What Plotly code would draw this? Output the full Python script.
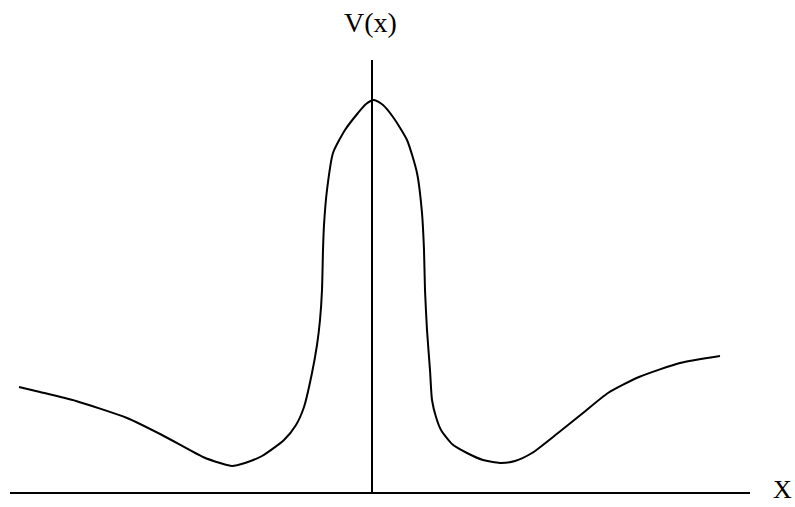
import plotly.graph_objects as go

# Potential curve V(x) (x relative to the vertical axis, V above the baseline)
x_vals = [-353, -332, -296, -245, -210, -169, -152, -140, -127, -110, -88, -76, -68, -60,
          -55, -52, -50, -49, -48, -45, -39, -27, -14, -6, 2, 11, 21, 35, 45, 50, 52, 53,
          55, 58, 60, 64, 69, 80, 95, 111, 128, 143, 160, 186, 211, 236, 267, 308, 348]
v_vals = [106, 101, 92, 75, 58, 36, 30, 27, 30, 37, 53, 68, 86, 120,
          148, 173, 203, 243, 268, 303, 340, 363, 380, 389, 393, 388, 376, 353, 320, 280, 243, 203,
          163, 123, 93, 76, 63, 49, 40, 33, 30, 32, 40, 60, 80, 100, 116, 130, 137]

# Axis extents
x_axis_span = [-362, 378]
v_axis_span = [0, 433]

axis_label_v = "V(x)"
axis_label_x = "X"

fig = go.Figure()

# horizontal axis
fig.add_trace(go.Scatter(x=x_axis_span, y=[0, 0], mode="lines",
                         line=dict(color="black", width=2), hoverinfo="skip"))
# vertical axis
fig.add_trace(go.Scatter(x=[0, 0], y=v_axis_span, mode="lines",
                         line=dict(color="black", width=2), hoverinfo="skip"))
# the curve
fig.add_trace(go.Scatter(x=x_vals, y=v_vals, mode="lines", hoverinfo="skip",
                         line=dict(color="black", width=2, shape="spline", smoothing=0.6)))

fig.add_annotation(x=-2, y=471, text=axis_label_v, showarrow=False,
                   font=dict(family="Liberation Serif", size=28, color="black"))
fig.add_annotation(x=422, y=-13, xanchor="right", yanchor="bottom",
                   text=axis_label_x, showarrow=False,
                   font=dict(family="Liberation Serif", size=26, color="black"))

fig.update_layout(
    width=795, height=507,
    margin=dict(l=0, r=0, t=0, b=0),
    paper_bgcolor="white", plot_bgcolor="white",
    showlegend=False,
    xaxis=dict(range=[-372, 423], visible=False, fixedrange=True),
    yaxis=dict(range=[-14, 493], visible=False, fixedrange=True),
)

# remove the default page margin so the figure fills the window exactly
fig.write_html("out.html",
               config={"displayModeBar": False, "staticPlot": True},
               post_script="document.body.style.margin='0';document.body.style.overflow='hidden';")
